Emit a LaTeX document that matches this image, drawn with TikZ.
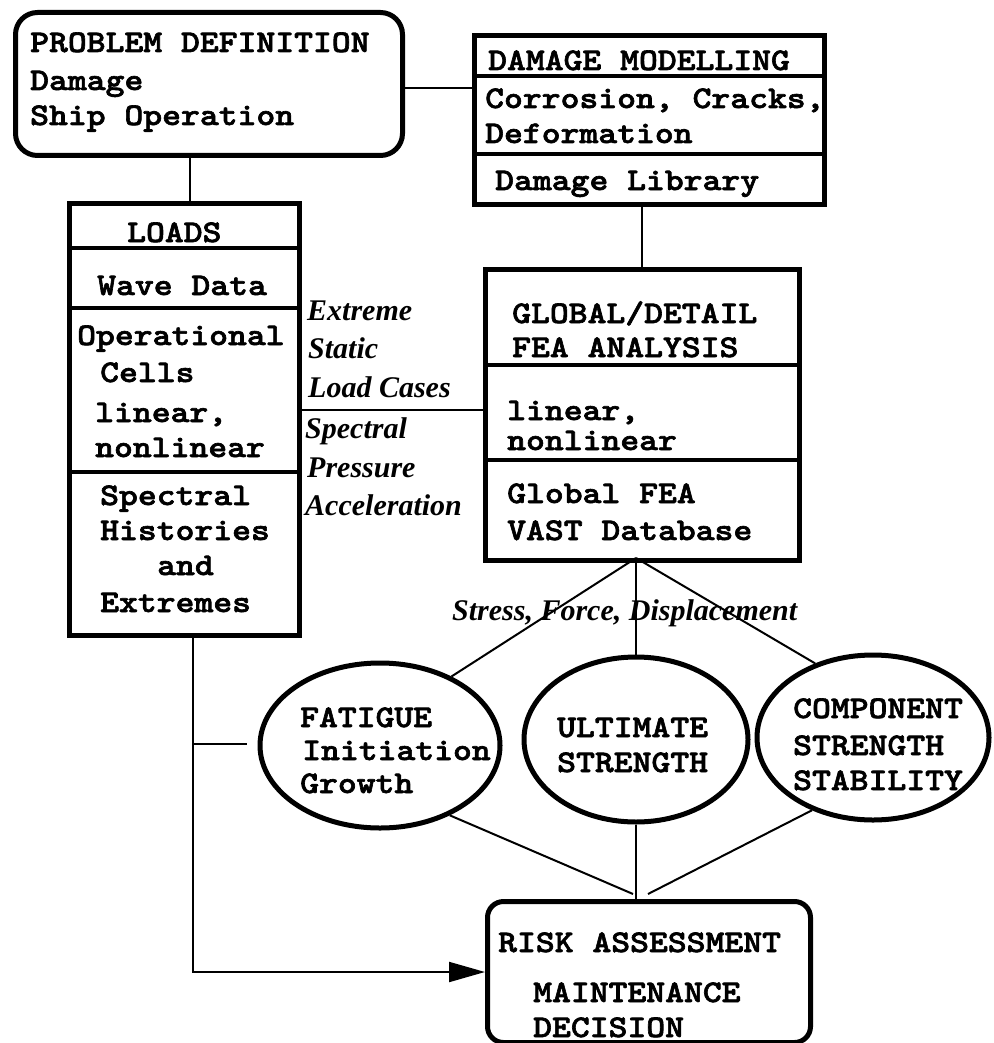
\documentclass[tikz,border=0pt]{standalone}
\usepackage{fontspec}
\newfontfamily\boxfont{lmmonolt10-bold.otf}[FakeStretch=1.14, FakeBold=2]
\newfontfamily\lblfont{Liberation Serif}
\usetikzlibrary{arrows.meta,shapes.geometric}
\begin{document}
\begin{tikzpicture}[x=1pt,y=-1pt,
  box/.style={draw, line width=5pt, inner sep=0pt, anchor=north west},
  rbox/.style={box, rounded corners=#1},
  oval/.style={draw, ellipse, line width=5pt, inner sep=0pt},
  txt/.style={font=\boxfont\fontsize{31.5}{35}\selectfont, inner sep=0pt, anchor=base west},
  lbl/.style={font=\lblfont\bfseries\itshape\fontsize{30}{34}\selectfont, inner sep=0pt, anchor=base west},
  divline/.style={line width=4pt},
  conn/.style={line width=2pt}]
\useasboundingbox (0,0) rectangle (993,1043);

% ---- boxes ----
\node[rbox=22pt, minimum width=387pt, minimum height=143pt] (pd) at (13,10) {};
\node[box, minimum width=350pt, minimum height=169pt] (dm) at (472,33) {};
\node[box, minimum width=230pt, minimum height=432pt] (loads) at (67,201) {};
\node[box, minimum width=314pt, minimum height=291pt] (gfea) at (483,267) {};
\node[rbox=16pt, minimum width=323pt, minimum height=141pt] (risk) at (485,899) {};

% ---- ellipses ----
\node[oval, minimum width=240pt, minimum height=165pt] (fat) at (380,745.5) {};
\node[oval, minimum width=224pt, minimum height=165pt] (ult) at (636,739.5) {};
\node[oval, minimum width=232pt, minimum height=165pt] (comp) at (873,737.5) {};

% ---- dividers ----
\draw[divline] (dm.west |- 0,76) -- (dm.east |- 0,76);
\draw[divline] (dm.west |- 0,154) -- (dm.east |- 0,154);
\draw[divline] (loads.west |- 0,248) -- (loads.east |- 0,248);
\draw[divline] (loads.west |- 0,308) -- (loads.east |- 0,308);
\draw[divline] (loads.west |- 0,472) -- (loads.east |- 0,472);
\draw[divline] (gfea.west |- 0,365) -- (gfea.east |- 0,365);
\draw[divline] (gfea.west |- 0,460) -- (gfea.east |- 0,460);

% ---- texts ----
\node[txt] (pd1) at (30,52) {PROBLEM DEFINITION};
\node[txt] (pd2) at (30,90) {Damage};
\node[txt] (pd3) at (30,125) {Ship Operation};

\node[txt] (dm1) at (488,70) {DAMAGE MODELLING};
\node[txt] (dm2) at (485,108) {Corrosion, Cracks,};
\node[txt] (dm3) at (485,143) {Deformation};
\node[txt] (dm4) at (495,190) {Damage Library};

\node[txt] (ld1) at (127,242) {LOADS};
\node[txt] (ld2) at (97,295) {Wave Data};
\node[txt] (ld3) at (77,345) {Operational};
\node[txt] (ld4) at (100,382) {Cells};
\node[txt] (ld5) at (95,422) {linear,};
\node[txt] (ld6) at (95,457) {nonlinear};
\node[txt] (ld7) at (100,505) {Spectral};
\node[txt] (ld8) at (100,540) {Histories};
\node[txt] (ld9) at (157,575) {and};
\node[txt] (ld10) at (100,612) {Extremes};

\node[txt] (gf1) at (512,323) {GLOBAL/DETAIL};
\node[txt] (gf2) at (512,357) {FEA ANALYSIS};
\node[txt] (gf3) at (507,420) {linear,};
\node[txt] (gf4) at (507,450) {nonlinear};
\node[txt] (gf5) at (507,503) {Global FEA};
\node[txt] (gf6) at (507,540) {VAST Database};

\node[txt] (ft1) at (300,727) {FATIGUE};
\node[txt] (ft2) at (302,760) {Initiation};
\node[txt] (ft3) at (300,793) {Growth};

\node[txt] (ut1) at (557,737) {ULTIMATE};
\node[txt] (ut2) at (557,772) {STRENGTH};

\node[txt] (cp1) at (793,718) {COMPONENT};
\node[txt] (cp2) at (793,755) {STRENGTH};
\node[txt] (cp3) at (793,790) {STABILITY};

\node[txt] (rk1) at (498,952) {RISK ASSESSMENT};
\node[txt] (rk2) at (533,1002) {MAINTENANCE};
\node[txt] (rk3) at (533,1037) {DECISION};

% ---- italic labels ----
\node[lbl] (l1) at (307,320) {Extreme};
\node[lbl] (l2) at (308,358) {Static};
\node[lbl] (l3) at (308,397) {Load Cases};
\node[lbl] (l4) at (305,438) {Spectral};
\node[lbl] (l5) at (307,477) {Pressure};
\node[lbl] (l6) at (305,515) {Acceleration};
\node[lbl] (l7) at (452,620) {Stress, Force, Displacement};

% ---- connectors ----
\draw[conn] (pd.east |- 0,88) -- (dm.west |- 0,88);
\draw[conn] (190,0 |- pd.south) -- (190,0 |- loads.north);
\draw[conn] (642,0 |- dm.south) -- (642,0 |- gfea.north);
\draw[conn] (loads.east |- 0,410) -- (gfea.west |- 0,410);

\coordinate (gs) at (636,558);
\draw[conn] (gs) -- (fat.44);
\draw[conn] (gs) -- (ult.north);
\draw[conn] (gs) -- (comp.128);

\coordinate (ra) at (633,894);
\coordinate (rc) at (648,894);
\draw[conn] (fat.-45) -- (ra);
\draw[conn] (ult.south) -- (ult.south |- risk.north);
\draw[conn] (comp.-130) -- (rc);

\coordinate (fa) at (193,744);
\coordinate (fb) at (247,744);
\draw[conn] (fa) -- (fb);
\draw[conn, -{Triangle[length=36pt,width=20pt]}] (193,0 |- loads.south) |- (risk.west);
\end{tikzpicture}
\end{document}
